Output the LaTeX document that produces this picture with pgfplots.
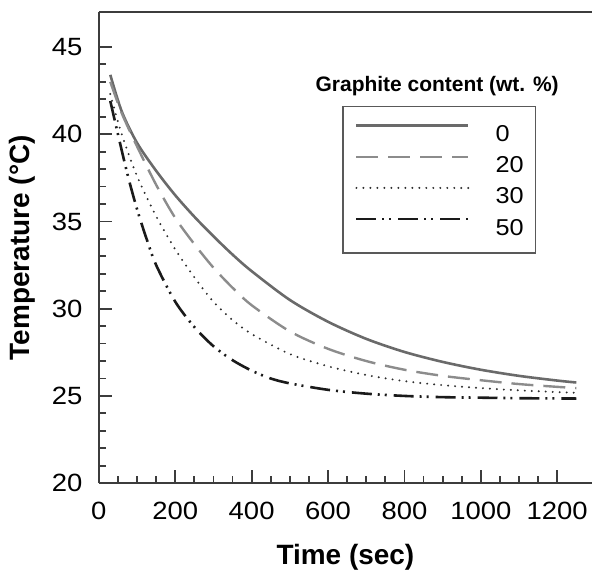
\documentclass[border=0pt]{standalone}
\usepackage{fontspec}
\setmainfont{Liberation Sans}
\newfontfamily\tickfont{Liberation Sans}[FakeStretch=1.1]
\usepackage{pgfplots}
\pgfplotsset{compat=1.18}
\definecolor{czero}{HTML}{6A6A6A}
\definecolor{ctwenty}{HTML}{8C8C8C}
\definecolor{cthirty}{HTML}{2E2E2E}
\definecolor{cfifty}{HTML}{1A1A1A}
\definecolor{caxis}{HTML}{3C3C3C}

\begin{document}
\begin{tikzpicture}
\begin{axis}[
  name=ax,
  scale only axis,
  width=247bp, height=236bp,
  xmin=0, xmax=1291, ymin=20, ymax=47,
  axis x line*=bottom, axis y line*=left,
  axis line style={-, line width=1bp, color=caxis},
  clip=false,
  xtick={0,200,...,1200}, ytick={20,25,...,45},
  minor x tick num=3, minor y tick num=4,
  tick align=inside,
  major tick length=6.5bp, minor tick length=3.5bp,
  every tick/.style={caxis, line width=0.9bp},
  /pgf/number format/assume math mode=true,
  /pgf/number format/1000 sep={},
  tick label style={font=\tickfont\fontsize{12.5bp}{14bp}\selectfont},
  xticklabel style={anchor=north, inner sep=0pt, yshift=-9.5bp},
  yticklabel style={anchor=east, inner sep=0pt, xshift=-8bp},
  xlabel={Time (sec)}, ylabel={Temperature (°C)},
  label style={font=\bfseries\fontsize{14bp}{16bp}\selectfont},
  xlabel style={at={(axis description cs:0.5,0)}, anchor=base, yshift=-40.5bp},
  ylabel style={at={(axis description cs:-0.1397,0.5)}, anchor=base},
  legend cell align=left,
  legend image code/.code={\draw[#1] (0bp,4bp) -- (56bp,4bp);},
  legend style={at={(axis description cs:0.494,0.801)}, anchor=north west,
    draw=black!65, line width=0.7bp, fill=white,
    inner xsep=6bp, inner ysep=9bp, row sep=7bp,
    font=\tickfont\fontsize{11.5bp}{13bp}\selectfont,
    nodes={inner sep=0pt, text height=8bp, text depth=0bp, text width=14bp, align=left},
    /tikz/every odd column/.append style={column sep=13bp}},
]
% 0 wt.%
\addplot[czero, line width=1.3bp, smooth] coordinates {
  (30,43.4) (60,41.3) (100,39.5) (150,37.9) (200,36.5) (250,35.27) (300,34.15)
  (350,33.1) (400,32.15) (500,30.5) (600,29.25) (700,28.27) (800,27.52) (900,26.95)
  (1000,26.5) (1100,26.15) (1200,25.88) (1250,25.77)};
\addlegendentry{0}
% 20 wt.%
\addplot[ctwenty, line width=1.2bp, dash pattern=on 11bp off 5bp, smooth] coordinates {
  (30,43.0) (60,41.2) (100,39.3) (150,37.1) (200,35.2) (250,33.7) (300,32.35)
  (350,31.2) (400,30.2) (500,28.7) (600,27.7) (700,27.0) (800,26.5) (900,26.15)
  (1000,25.9) (1100,25.68) (1200,25.52) (1250,25.45)};
\addlegendentry{20}
% 30 wt.%
\addplot[cthirty, line width=1.1bp, line cap=round, dash pattern=on 0pt off 3.5bp, smooth] coordinates {
  (30,42.3) (60,40.0) (100,37.6) (150,35.3) (200,33.4) (250,31.8) (300,30.4)
  (350,29.35) (400,28.55) (500,27.4) (600,26.7) (700,26.2) (800,25.85) (900,25.62)
  (1000,25.45) (1100,25.32) (1200,25.22) (1250,25.18)};
\addlegendentry{30}
% 50 wt.%
\addplot[cfifty, line width=1.3bp, dash pattern=on 10bp off 3bp on 1bp off 2.5bp on 1bp off 3.5bp, smooth] coordinates {
  (30,41.9) (50,40.0) (75,37.7) (100,35.7) (125,34.0) (150,32.5) (200,30.4)
  (250,28.95) (300,27.85) (350,27.05) (400,26.45) (450,26.0) (500,25.72) (600,25.35)
  (700,25.13) (800,25.0) (900,24.93) (1000,24.9) (1100,24.87) (1250,24.85)};
\addlegendentry{50}

\draw[caxis, line width=1bp] (rel axis cs:0,1) -- (rel axis cs:1,1);
\node[font=\bfseries\fontsize{10.5bp}{12bp}\selectfont, anchor=base]
  at (axis description cs:0.686,0.8305) {Graphite content (wt. \%)};
\end{axis}
\path (ax.south west) ++(-49.5bp,-45bp) rectangle ([yshift=6bp]ax.north east);
\end{tikzpicture}
\end{document}
